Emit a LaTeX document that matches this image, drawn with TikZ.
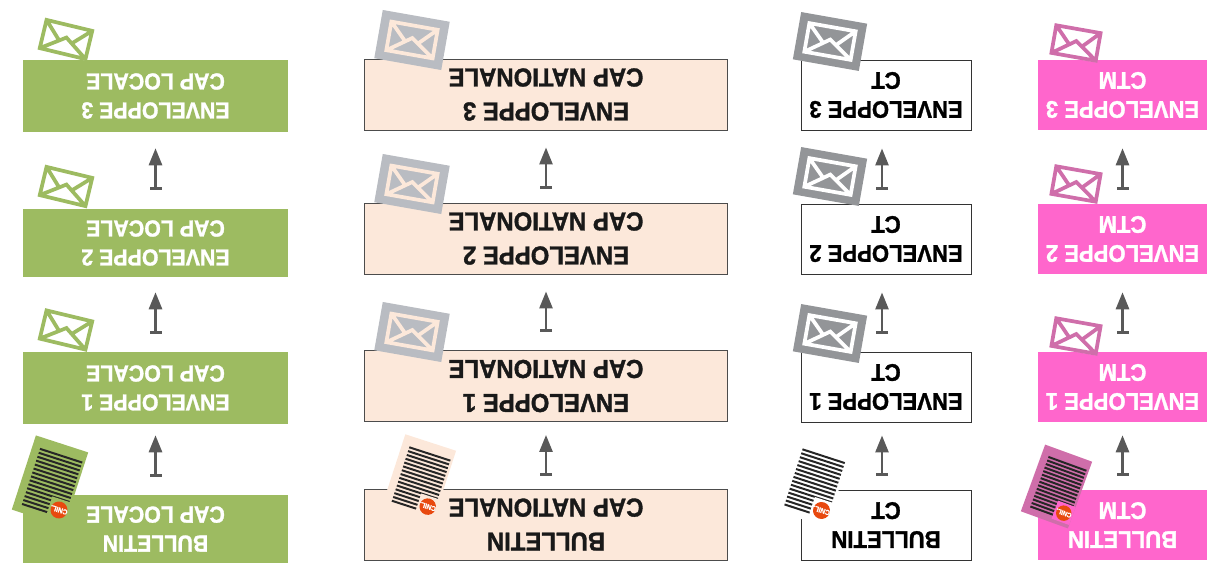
\documentclass[tikz,border=0pt]{standalone}
\usepackage{fontspec}
\setmainfont{Liberation Sans}[BoldFeatures={FakeBold=1.3,FakeStretch=.92}]
\usetikzlibrary{arrows.meta}
\definecolor{capgreen}{HTML}{9DBB61}
\definecolor{cappeach}{HTML}{FCE8DA}
\definecolor{cappink}{HTML}{FF66CC}
\definecolor{paperpink}{HTML}{CF6EAA}
\definecolor{mailgrey}{HTML}{B9BCC2}
\definecolor{maildark}{HTML}{939598}
\definecolor{flowgrey}{HTML}{595959}
\definecolor{stampred}{HTML}{E8490F}
\tikzset{
  capbox/.style={rotate=180,align=center,inner sep=0pt,font=\fontsize{18}{21.75}\selectfont\bfseries},
  localbox/.style={capbox,fill=capgreen,text=white,minimum width=198.75pt,font=\fontsize{17.4}{21.75}\selectfont\bfseries},
  natbox/.style={capbox,fill=cappeach,draw=black!70,line width=.7pt,text=black!90,minimum width=272.25pt,font=\fontsize{19.5}{25.5}\selectfont\bfseries},
  ctbox/.style={capbox,fill=white,draw=black!80,line width=.7pt,text=black,minimum width=127.5pt},
  ctmbox/.style={capbox,fill=cappink,text=white,minimum width=126.75pt},
  flow/.style={flowgrey,line width=2pt,{Bar[width=9pt,line width=2pt]}-{Triangle[length=12.75pt,width=9.75pt]}}
}
% envelope: centre x, centre y, angle, back colour, line colour, back half width, back half height, half width, half height
\newcommand{\mailicon}[9]{
  \begin{scope}[shift={(#1,#2)},rotate=-#3]
    \fill[#4] (-#6,-#7) rectangle (#6,#7);
    \draw[#5,line width=2.8pt,line join=miter]
      (-#8,-#9) rectangle (#8,#9)
      (-#8,#9) -- (0,-2) -- (#8,#9)
      (-#8,-#9) -- (-7,2)
      (#8,-#9) -- (7,2);
  \end{scope}
}
% sheet: name, centre x, centre y, angle, scale, sheet colour, corner colour
\newcommand{\cnilsheet}[7]{
  \begin{scope}[shift={(#2,#3)},rotate=-#4,scale=#5,transform shape]
    \fill[#6] (-27.5,-39) rectangle (27.5,39);
    \foreach \k in {0,...,14}
      \draw[black!85,line width=1.5pt] (-19.5,{-27.5+4.14*\k}) -- (25,{-27.5+4.14*\k});
    \fill[#7] (7,14) rectangle (27.5,35);
    \fill[stampred] (17.5,24.8) circle (8.5);
    \node[rotate=180,text=white,inner sep=0pt,font=\fontsize{5.5}{5.5}\selectfont\bfseries] (#1) at (17.5,24.8) {CNIL.};
  \end{scope}
}
\begin{document}
\begin{tikzpicture}[x=.75pt,y=-.75pt]
  \useasboundingbox (0,0) rectangle (1223,574);
  % boxes
  \foreach \r/\yc/\hh/\txt in {0/529/68/BULLETIN,1/388/72/ENVELOPPE 1,2/243/68/ENVELOPPE 2,3/96/72/ENVELOPPE 3}
    \node[localbox,minimum height=\hh*.75pt] (local\r) at (155.5,\yc) {\txt\\CAP LOCALE};
  \foreach \r/\yc/\txt in {0/524.5/BULLETIN,1/386/ENVELOPPE 1,2/238.5/ENVELOPPE 2,3/94.5/ENVELOPPE 3}
    \node[natbox,minimum height=53.25pt] (nat\r) at (546,\yc) {\txt\\CAP NATIONALE};
  \foreach \r/\yc/\txt in {0/525/BULLETIN,1/387/ENVELOPPE 1,2/239/ENVELOPPE 2,3/95/ENVELOPPE 3}{
    \node[ctbox,minimum height=52.5pt] (ct\r) at (886,\yc) {\txt\\CT};
    \node[ctmbox,minimum height=52.5pt] (ctm\r) at (1122.5,\yc) {\txt\\CTM};
  }
  % arrows
  \foreach \a/\b/\s/\t in {0/1/18/11,1/2/18/15,2/3/19/16}
    \draw[flow,shorten <=\s*.75pt,shorten >=\t*.75pt] (local\a.south) -- (local\b.north);
  \foreach \a/\b/\s/\t in {0/1/13/13,1/2/18/17,2/3/14/17}
    \draw[flow,shorten <=\s*.75pt,shorten >=\t*.75pt] (nat\a.south) -- (nat\b.north);
  \foreach \a/\b/\s/\t in {0/1/14/13,1/2/18/18,2/3/14/18}{
    \draw[flow,shorten <=\s*.75pt,shorten >=\t*.75pt] ([xshift=-3pt]ct\a.south) -- ([xshift=-3pt]ct\b.north);
    \draw[flow,shorten <=\s*.75pt,shorten >=\t*.75pt] (ctm\a.south) -- (ctm\b.north);
  }
  % envelopes
  \foreach \yy in {39.5,186.5,330}{\mailicon{66}{\yy}{13.5}{white}{capgreen}{25}{16}{23.5}{14.5}}
  \foreach \yy in {40,184,332}{\mailicon{412}{\yy}{10}{mailgrey}{cappeach}{34}{24.5}{23.5}{14.5}}
  \foreach \yy in {41.5,176.5,333.5}{\mailicon{830}{\yy}{10}{maildark}{white}{33.5}{24}{23.5}{14.5}}
  \foreach \yy in {43,184,336}{\mailicon{1076}{\yy}{10}{white}{paperpink}{23.5}{15.5}{22.5}{14}}
  % sheets
  \cnilsheet{stampa}{50}{481}{18}{1}{capgreen}{capgreen}
  \cnilsheet{stampb}{419}{478.5}{18}{.97}{cappeach}{cappeach}
  \cnilsheet{stampc}{812.5}{481.5}{18}{1}{white}{white}
  \cnilsheet{stampd}{1056.5}{486.5}{20}{.91}{paperpink}{cappink}
\end{tikzpicture}
\end{document}
